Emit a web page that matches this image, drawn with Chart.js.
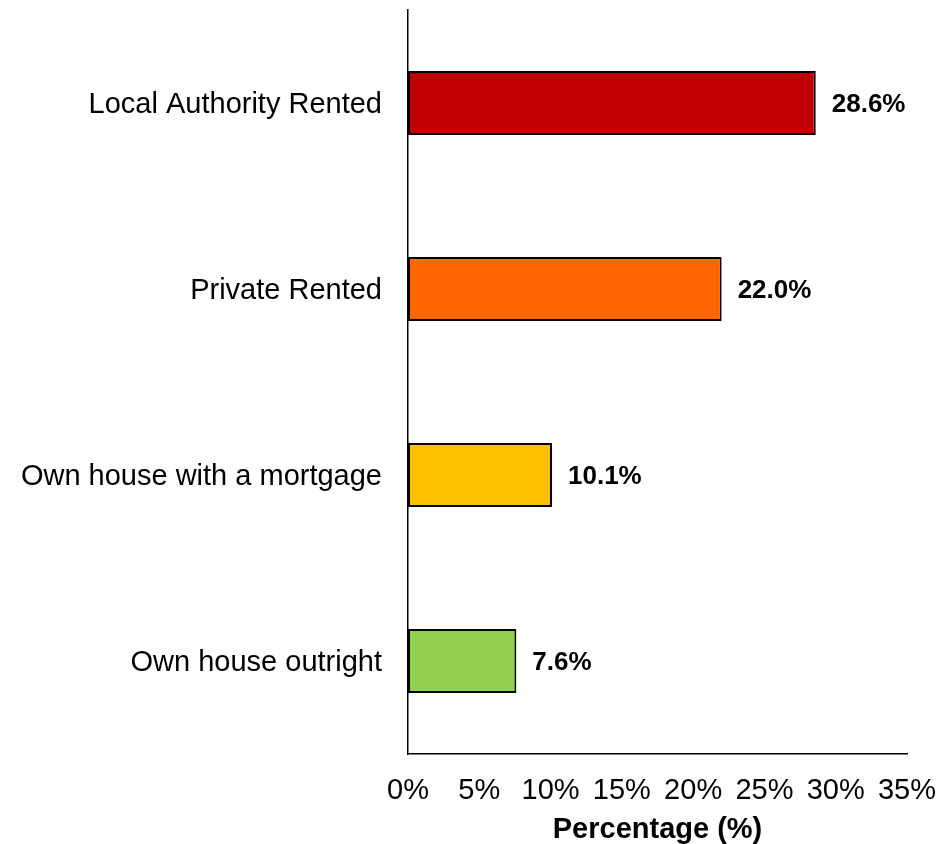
<!DOCTYPE html>
<html>
<head>
<meta charset="utf-8">
<script src="https://cdn.jsdelivr.net/npm/chart.js@4/dist/chart.umd.min.js"></script>
<style>
  html, body { margin: 0; padding: 0; background: #ffffff; }
  #wrap { width: 938px; height: 844px; }
</style>
</head>
<body>
<div id="wrap"><canvas id="chart" width="938" height="844"></canvas></div>
<script>
// Housing tenure shares
const categories = ['Local Authority Rented', 'Private Rented', 'Own house with a mortgage', 'Own house outright'];
const percentages = [28.6, 22.0, 10.1, 7.6];
const barColors = ['#C00000', '#FF6600', '#FFC000', '#92D050'];
const tickValues = [0, 5, 10, 15, 20, 25, 30, 35];

const FONT = '"Liberation Sans", Arial, sans-serif';

// Writes each bar's value just past its end
const valueLabels = {
  id: 'valueLabels',
  afterDatasetsDraw(chart) {
    const ctx = chart.ctx;
    const meta = chart.getDatasetMeta(0);
    ctx.save();
    ctx.font = 'bold 26px ' + FONT;
    ctx.fillStyle = '#000000';
    ctx.textAlign = 'left';
    ctx.textBaseline = 'middle';
    meta.data.forEach((bar, i) => {
      ctx.fillText(percentages[i].toFixed(1) + '%', bar.x + 16, bar.y + 2);
    });
    ctx.restore();
  }
};

// Keep scales from reserving extra room for overhanging tick labels
function noOverhang(scale) {
  scale.paddingTop = 0;
  scale.paddingBottom = 0;
  scale.paddingLeft = 0;
  scale.paddingRight = 0;
}

new Chart(document.getElementById('chart'), {
  type: 'bar',
  data: {
    labels: categories,
    datasets: [{
      data: percentages,
      backgroundColor: barColors,
      borderColor: '#000000',
      borderWidth: 2,
      borderSkipped: false,
      categoryPercentage: 1,
      barPercentage: 0.345
    }]
  },
  options: {
    indexAxis: 'y',
    responsive: false,
    animation: false,
    layout: { padding: { top: 10, right: 31, bottom: 0, left: 0 } },
    plugins: {
      legend: { display: false },
      tooltip: { enabled: false }
    },
    scales: {
      x: {
        min: 0,
        max: 35,
        afterBuildTicks(scale) {
          scale.ticks = tickValues.map(v => ({ value: v }));
        },
        afterFit(scale) { scale.height = 90; noOverhang(scale); },
        grid: { display: false, drawTicks: false },
        border: { display: true, color: '#000000', width: 1.5 },
        ticks: {
          color: '#000000',
          font: { family: FONT, size: 29 },
          padding: 20,
          maxRotation: 0,
          callback: v => v + '%'
        },
        title: {
          display: true,
          text: 'Percentage (%)',
          color: '#000000',
          font: { family: FONT, size: 29, weight: 'bold' },
          padding: { top: 0, bottom: -3 }
        }
      },
      y: {
        afterFit(scale) { scale.width = 408; noOverhang(scale); },
        grid: { display: false, drawTicks: false },
        border: { display: true, color: '#000000', width: 1.5 },
        ticks: {
          color: '#000000',
          font: { family: FONT, size: 29 },
          padding: 26,
          labelOffset: 2
        }
      }
    }
  },
  plugins: [valueLabels]
});
</script>
</body>
</html>
